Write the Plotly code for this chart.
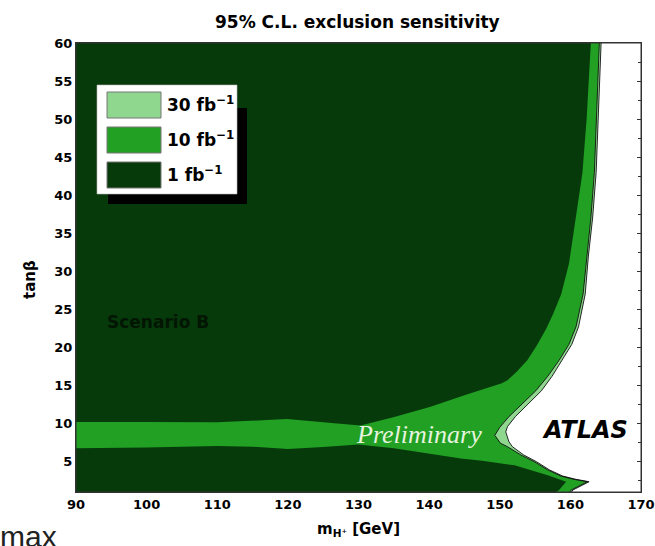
import plotly.graph_objects as go

# ---- axis ranges / ticks ----
M_RANGE = [90, 170]
TANB_RANGE = [1, 60]
x_ticks = [90, 100, 110, 120, 130, 140, 150, 160, 170]
y_ticks = [5, 10, 15, 20, 25, 30, 35, 40, 45, 50, 55, 60]

# ---- exclusion contours (m_H+ [GeV], tan beta) ----
# 10 fb^-1 outer boundary, from top of plot down to the bottom
m_10fb_edge = [164.1, 163.9, 163.7, 163.4, 162.9, 162.3, 161.8, 160.8, 159.8, 158.4,
               156.8, 155.1, 153.3, 151.3, 150.0, 149.3, 150.1, 151.1, 153.0, 154.9,
               156.8, 158.65, 160.5, 162.4, 161.5, 160.1, 159.9]
tanb_10fb_edge = [60, 55, 50, 43, 37, 32, 27, 22.7, 20.4, 18.3,
                  16.2, 14.3, 12.7, 10.9, 9.5, 8.45, 7.4, 6.95, 5.86, 4.98,
                  3.9, 3.1, 2.67, 2.35, 1.92, 1.26, 1.0]

# 30 fb^-1 outer boundary
m_30fb_edge = [164.35, 164.15, 163.95, 163.65, 163.15, 162.55, 162.1, 161.15, 160.2, 158.85,
               157.4, 155.9, 154.1, 152.2, 151.1, 150.85, 151.3, 151.8, 153.4, 155.2,
               157.05, 158.9, 160.75, 162.65, 161.75, 160.35, 160.15]
tanb_30fb_edge = [60, 55, 50, 43, 37, 32, 27, 22.7, 20.4, 18.3,
                  16.2, 14.3, 12.7, 10.9, 9.6, 8.9, 7.6, 6.95, 5.86, 4.98,
                  3.9, 3.1, 2.67, 2.35, 1.92, 1.26, 1.0]

# 1 fb^-1 upper region: right edge from the top, kink, then lower edge to the left
m_1fb_upper = [162.9, 162.6, 162.3, 161.7, 160.8, 159.8, 158.7, 157.6, 156.6, 155.2,
               153.9, 152.4, 151.1, 150.3, 145.0, 140.2, 135.2, 130.3, 127.0, 124.6,
               122.0, 119.9, 117.0, 113.0, 110.0, 100.0, 90.0]
tanb_1fb_upper = [60, 55, 50, 42.9, 37.2, 31.0, 27.0, 24.5, 22.5, 20.2,
                  18.3, 16.8, 15.7, 15.3, 13.7, 12.2, 10.9, 9.75, 10.0, 10.2,
                  10.45, 10.6, 10.45, 10.25, 10.15, 10.2, 10.2]

# 1 fb^-1 lower region: upper edge from the left, tip, back to the bottom
m_1fb_lower = [90.0, 100.0, 110.0, 115.0, 120.0, 125.0, 130.0, 135.0, 140.0, 144.5,
               147.5, 149.2, 152.1, 156.8, 159.4, 158.4, 158.0]
tanb_1fb_lower = [6.75, 6.85, 7.05, 6.95, 6.65, 6.9, 7.25, 6.75, 6.05, 5.4,
                  5.1, 4.85, 4.5, 3.2, 2.35, 1.25, 1.0]

legend_labels = ["30 fb<sup>−1</sup>", "10 fb<sup>−1</sup>", "1 fb<sup>−1</sup>"]

C_LIGHT = "#8fd68f"
C_MED = "#21a024"
C_DARK = "#063a0b"

FONT = "DejaVu Sans"

fig = go.Figure()

def region(xs, ys, color):
    fig.add_trace(go.Scatter(x=xs, y=ys, mode="lines", fill="toself", fillcolor=color,
                             line=dict(width=0, color=color), hoverinfo="skip",
                             showlegend=False))

lo, hi = TANB_RANGE
region([M_RANGE[0]] + m_30fb_edge + [M_RANGE[0]], [hi] + tanb_30fb_edge + [lo], C_LIGHT)
region([M_RANGE[0]] + m_10fb_edge + [M_RANGE[0]], [hi] + tanb_10fb_edge + [lo], C_MED)
region([M_RANGE[0]] + m_1fb_upper, [hi] + tanb_1fb_upper, C_DARK)
region([M_RANGE[0]] + m_1fb_lower + [M_RANGE[0]], [lo] + tanb_1fb_lower + [lo], C_DARK)

# contour outlines
for xs, ys in [(m_10fb_edge, tanb_10fb_edge), (m_30fb_edge, tanb_30fb_edge)]:
    fig.add_trace(go.Scatter(x=xs, y=ys, mode="lines", line=dict(color="#111", width=0.9),
                             hoverinfo="skip", showlegend=False))

# pixel -> paper helpers for layout decorations
L, T, W, H = 76, 43, 565, 449
def px(x):
    return (x - L) / W
def py(y):
    return (T + H - y) / H

shapes = []
# legend shadow and box
shapes.append(dict(type="rect", xref="paper", yref="paper", x0=px(108), x1=px(247),
                   y0=py(204), y1=py(108), fillcolor="black", line=dict(width=0)))
shapes.append(dict(type="rect", xref="paper", yref="paper", x0=px(97), x1=px(237),
                   y0=py(194), y1=py(85), fillcolor="white", line=dict(width=0.6, color="#bbb")))
annotations = []
for i, (lab, col) in enumerate(zip(legend_labels, [C_LIGHT, C_MED, C_DARK])):
    top = 92 + 35 * i
    shapes.append(dict(type="rect", xref="paper", yref="paper", x0=px(107), x1=px(161),
                       y0=py(top + 26), y1=py(top), fillcolor=col,
                       line=dict(width=1, color="#777")))
    annotations.append(dict(text=lab, xref="paper", yref="paper", x=px(165), y=py(top + 12),
                            xanchor="left", yanchor="middle", showarrow=False,
                            font=dict(family=FONT, size=17, color="black", weight="bold")))
# frame
shapes.append(dict(type="rect", xref="paper", yref="paper", x0=0, x1=1, y0=0, y1=1,
                   line=dict(color="#333", width=1), layer="above"))

annotations += [
    dict(text="95% C.L. exclusion sensitivity", xref="paper", yref="paper",
         x=px(357), y=py(22), xanchor="center", yanchor="middle", showarrow=False,
         font=dict(family=FONT, size=17, color="black", weight="bold")),
    dict(text="tanβ", xref="paper", yref="paper", x=px(30), y=py(280), textangle=-90,
         xanchor="center", yanchor="middle", showarrow=False,
         font=dict(family=FONT, size=15, color="black", weight="bold")),
    dict(text="m<sub>H⁺</sub> [GeV]", xref="paper", yref="paper", x=px(358), y=py(529),
         xanchor="center", yanchor="middle", showarrow=False,
         font=dict(family=FONT, size=15, color="black", weight="bold")),
    dict(text="Scenario B", x=101.6, y=23.4, xref="x", yref="y", showarrow=False,
         xanchor="center", yanchor="middle",
         font=dict(family=FONT, size=17, color="#031503", weight="bold")),
    dict(text="<i>Preliminary</i>", x=138.6, y=8.6, xref="x", yref="y", showarrow=False,
         xanchor="center", yanchor="middle",
         font=dict(family="Liberation Serif", size=26, color="#e6f3de")),
    dict(text="<i>ATLAS</i>", x=162.0, y=9.2, xref="x", yref="y", showarrow=False,
         xanchor="center", yanchor="middle",
         font=dict(family=FONT, size=24, color="black", weight="bold")),
    dict(text="max", xref="paper", yref="paper", x=px(-2), y=py(536),
         xanchor="left", yanchor="middle", showarrow=False,
         font=dict(family="Liberation Sans", size=30, color="#222")),
]

tickfont = dict(family=FONT, size=13, color="black", weight="bold")
fig.update_layout(
    width=655, height=546, autosize=False,
    margin=dict(l=L, r=655 - L - W, t=T, b=546 - T - H, autoexpand=False),
    paper_bgcolor="white", plot_bgcolor="white",
    showlegend=False,
    shapes=shapes, annotations=annotations,
    xaxis=dict(range=M_RANGE, tickvals=x_ticks, ticks="inside", ticklen=4, tickcolor="#333",
               showline=True, linecolor="#333", mirror="ticks", showgrid=False, zeroline=False,
               layer="below traces", tickfont=tickfont, automargin=False),
    yaxis=dict(range=TANB_RANGE, tickvals=y_ticks, ticks="inside", ticklen=4, tickcolor="#333",
               showline=True, linecolor="#333", mirror="ticks", showgrid=False, zeroline=False,
               layer="below traces", tickfont=tickfont, automargin=False,
               minor=dict(dtick=2.5, tick0=0, ticks="inside", ticklen=3, tickcolor="#333")),
)

fig.write_html(
    "out.html",
    config={"responsive": False, "displayModeBar": False},
    post_script="document.body.style.margin='0px';document.body.style.overflow='hidden';",
)
